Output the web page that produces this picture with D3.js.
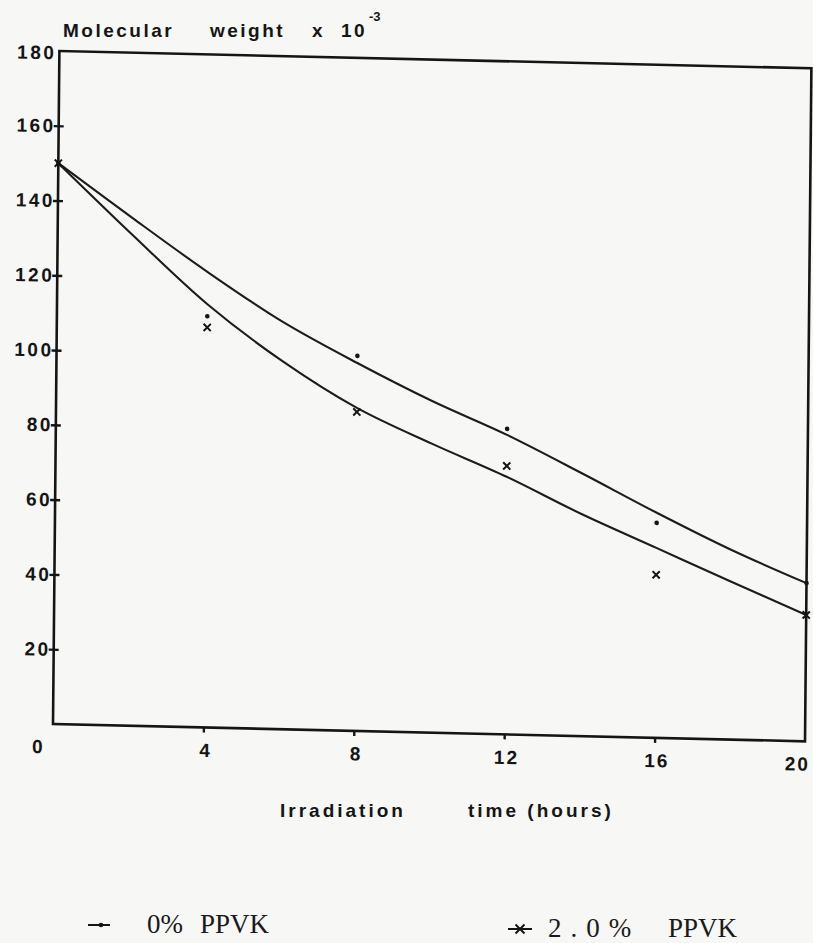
<!DOCTYPE html>
<html>
<head>
<meta charset="utf-8">
<script src="https://cdn.jsdelivr.net/npm/d3@7"></script>
<style>
  body { margin: 0; background: #f7f7f5; }
  .plotter { font-family: 'Liberation Sans', Arial, sans-serif; font-weight: bold; fill: #151515; }
  .legend { font-family: 'Liberation Serif', 'Times New Roman', serif; fill: #1a1a1a; }
</style>
</head>
<body>
<div id="chart"></div>
<script>
// Measured points (irradiation time in hours, molecular weight x 10^-3)
const hours = [0, 4, 8, 12, 16, 20];
const mwPPVK0 = [150, 110, 100.3, 81.7, 57.5, 42.3];
const mwPPVK2 = [150, 107, 85.3, 71.8, 43.6, 33.8];

// Fitted curves
const fitHours = [0, 2, 4, 6, 8, 10, 12, 14, 16, 18, 20];
const fitPPVK0 = [150, 135.7, 121.8, 109, 98.4, 88.7, 80.1, 70.3, 60.2, 50.7, 42.3];
const fitPPVK2 = [150, 131.2, 113.2, 98.5, 86.4, 77.3, 68.9, 59.4, 50.8, 42.2, 33.8];

const xTicks = [0, 4, 8, 12, 16, 20];
const yTicks = [20, 40, 60, 80, 100, 120, 140, 160, 180];

///////// Initialization //////////
const width = 752;
const height = 673;

const svg = d3
  .select('#chart')
  .append('svg')
  .attr('width', 813)
  .attr('height', 943);

// the scanned frame is slightly skewed, so the plot group is too
const group = svg
  .append('g')
  .attr('transform', 'translate(53,724) matrix(1,0.023,-0.0095,1,0,0) translate(0,' + -height + ')');

const xScale = d3.scaleLinear().domain([0, 20]).range([0, width]);
const yScale = d3.scaleLinear().domain([0, 180]).range([height, 0]);

// frame
group
  .append('rect')
  .attr('width', width)
  .attr('height', height)
  .attr('fill', 'none')
  .attr('stroke', '#151515')
  .attr('stroke-width', 2.6);

// x axis
const xAxis = d3.axisBottom(xScale).tickValues(xTicks).tickSize(5).tickPadding(11);
const xAxisGroup = group
  .append('g')
  .attr('class', 'plotter')
  .attr('transform', 'translate(0,' + height + ')')
  .call(xAxis);
xAxisGroup.select('.domain').remove();
xAxisGroup.selectAll('line').attr('stroke', '#151515').attr('stroke-width', 2.4)
  .filter((d) => d === 0 || d === 20).remove();
xAxisGroup.selectAll('text')
  .attr('class', 'plotter')
  .style('font-size', '19px')
  .style('letter-spacing', '2px')
  .attr('dx', (d) => (d === 0 ? -15 : d === 20 ? -8 : 2));

// y axis
const yAxis = d3.axisLeft(yScale).tickValues(yTicks).tickSize(5).tickPadding(-2);
const yAxisGroup = group.append('g').attr('class', 'plotter').call(yAxis);
yAxisGroup.select('.domain').remove();
yAxisGroup.selectAll('line')
  .attr('x1', 5)
  .attr('stroke', '#151515')
  .attr('stroke-width', 2.4)
  .filter((d) => d === 180).remove();
yAxisGroup.selectAll('text')
  .attr('class', 'plotter')
  .style('font-size', '19px')
  .style('letter-spacing', '2.5px');
yAxisGroup.selectAll('text').filter((d) => d === 180).attr('dy', '0.42em');

// curves
const curveLine = (values) =>
  d3
    .line()
    .x((d, i) => xScale(fitHours[i]))
    .y((d) => yScale(d))
    .curve(d3.curveCatmullRom)(values);

[fitPPVK0, fitPPVK2].forEach((values) => {
  group
    .append('path')
    .attr('d', curveLine(values))
    .attr('fill', 'none')
    .attr('stroke', '#1c1c1c')
    .attr('stroke-width', 2.1);
});

// dots: 0% PPVK
group
  .selectAll('.dot')
  .data(mwPPVK0)
  .enter()
  .append('circle')
  .attr('class', 'dot')
  .attr('cx', (d, i) => xScale(hours[i]))
  .attr('cy', (d) => yScale(d))
  .attr('r', 2.3)
  .attr('fill', '#151515');

// crosses: 2.0% PPVK
const crossPath = (cx, cy, s) =>
  'M' + (cx - s) + ',' + (cy - s) + 'L' + (cx + s) + ',' + (cy + s) +
  'M' + (cx - s) + ',' + (cy + s) + 'L' + (cx + s) + ',' + (cy - s);

group
  .selectAll('.cross')
  .data(mwPPVK2)
  .enter()
  .append('path')
  .attr('class', 'cross')
  .attr('d', (d, i) => crossPath(xScale(hours[i]), yScale(d), 3.6))
  .attr('stroke', '#151515')
  .attr('stroke-width', 2);

// y title
const yTitle = svg
  .append('text')
  .attr('class', 'plotter')
  .attr('y', 37)
  .style('font-size', '19px')
  .style('letter-spacing', '2.5px');
yTitle.append('tspan').attr('x', 63).text('Molecular');
yTitle.append('tspan').attr('x', 210).text('weight');
yTitle.append('tspan').attr('x', 312).text('x');
yTitle.append('tspan').attr('x', 341).text('10');
yTitle.append('tspan').attr('x', 369).attr('dy', -16).style('font-size', '13px').style('letter-spacing', '0px').text('-3');

// x title
const xTitle = svg
  .append('text')
  .attr('class', 'plotter')
  .attr('y', 817)
  .style('font-size', '19px')
  .style('letter-spacing', '3px');
xTitle.append('tspan').attr('x', 280).text('Irradiation');
xTitle.append('tspan').attr('x', 468).text('time (hours)');

////// Legend /////
const legend = svg.append('g');
legend.append('line')
  .attr('x1', 88).attr('x2', 110).attr('y1', 925).attr('y2', 925)
  .attr('stroke', '#151515').attr('stroke-width', 2);
legend.append('circle')
  .attr('cx', 101).attr('cy', 925).attr('r', 2.3).attr('fill', '#151515');
legend.append('text').attr('class', 'legend')
  .attr('x', 147).attr('y', 933).style('font-size', '27px').text('0%');
legend.append('text').attr('class', 'legend')
  .attr('x', 200).attr('y', 933).style('font-size', '27px').text('PPVK');

legend.append('line')
  .attr('x1', 508).attr('x2', 532).attr('y1', 929).attr('y2', 929)
  .attr('stroke', '#151515').attr('stroke-width', 2);
legend.append('path')
  .attr('d', crossPath(520, 929, 4.5))
  .attr('stroke', '#151515').attr('stroke-width', 2);
legend.append('text').attr('class', 'legend')
  .attr('x', 548).attr('y', 937).style('font-size', '27px').style('letter-spacing', '9px').text('2.0%');
legend.append('text').attr('class', 'legend')
  .attr('x', 668).attr('y', 937).style('font-size', '27px').text('PPVK');
</script>
</body>
</html>
